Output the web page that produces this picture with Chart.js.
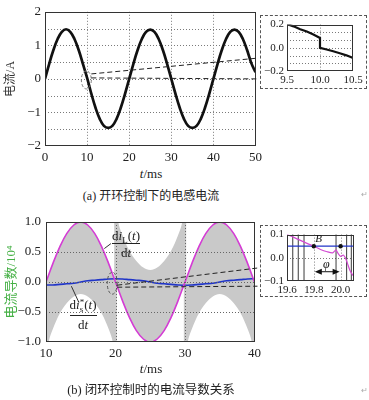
<!DOCTYPE html>
<html><head><meta charset="utf-8">
<script src="https://cdn.jsdelivr.net/npm/chart.js@4.4.1/dist/chart.umd.min.js"></script>
<style>
html,body{margin:0;padding:0;background:#fff}
#wrap{position:relative;width:369px;height:400px;overflow:hidden;font-family:'Liberation Serif','Times New Roman',serif;color:#222}
canvas{position:absolute;display:block}
.box{position:absolute;border:1px dashed #555;box-sizing:border-box}
.t{position:absolute;white-space:nowrap;line-height:1;transform:translate(-50%,-50%)}
.cn{font-family:'Noto Sans CJK SC',sans-serif}
.bar{position:absolute;height:0;border-top:1px solid #222}
.sb{position:relative;top:3px;font-size:9px}
.st{display:inline-block;font-size:9px;line-height:7px;vertical-align:-3px;text-align:left}
</style></head><body><div id="wrap">
<canvas id="ca" width="266" height="165" style="left:0;top:0"></canvas>
<canvas id="cb" width="265" height="156" style="left:0;top:208px"></canvas>
<canvas id="cia" width="106" height="74" style="left:260px;top:15px"></canvas>
<canvas id="cib" width="106" height="72" style="left:260px;top:225px"></canvas>
<div class="box" style="left:260px;top:15px;width:107px;height:74px"></div>
<div class="box" style="left:260px;top:225px;width:107px;height:72px"></div>
<div class="t" style="left:151px;top:173px;font-size:13px"><i>t</i>/ms</div>
<div class="t" style="left:151px;top:195px;font-size:12px">(a) <span class="cn">开环控制下的电感电流</span></div>
<div class="t" style="left:151px;top:368px;font-size:13px"><i>t</i>/ms</div>
<div class="t" style="left:151px;top:390px;font-size:12.5px">(b) <span class="cn">闭环控制时的电流导数关系</span></div>
<div class="t" style="left:126px;top:235px;font-size:13px">d<i>i</i><span class="sb">L</span>(<i>t</i>)</div>
<div class="bar" style="left:112px;top:243px;width:28px"></div>
<div class="t" style="left:126px;top:252px;font-size:13px">d<i>t</i></div>
<div class="t" style="left:83px;top:305px;font-size:13px">d<i>i</i><span class="st">*<br>s</span>(<i>t</i>)</div>
<div class="bar" style="left:70px;top:315px;width:27px"></div>
<div class="t" style="left:83px;top:324px;font-size:13px">d<i>t</i></div>
<div class="t" style="left:364px;top:195px;font-size:8px;color:#aaa">↵</div>
<div class="t" style="left:364px;top:391px;font-size:8px;color:#aaa">↵</div>
</div>
<script>
// ---------- data: (a) open-loop inductor current ----------
const tA = [0,1,2,3,4,5,6,7,8,9,10,11,12,13,14,15,16,17,18,19,20,21,22,23,24,25,26,27,28,29,30,31,32,33,34,35,36,37,38,39,40,41,42,43,44,45,46,47,48,49,50];
const iA = [0,0.45,0.86,1.19,1.40,1.48,1.40,1.19,0.86,0.45,0.03,-0.44,-0.86,-1.19,-1.40,-1.46,-1.40,-1.19,-0.86,-0.45,0.0,0.45,0.86,1.19,1.40,1.47,1.40,1.19,0.86,0.45,0.0,-0.45,-0.86,-1.19,-1.40,-1.46,-1.40,-1.19,-0.86,-0.45,0.0,0.45,0.86,1.19,1.40,1.47,1.40,1.19,0.86,0.47,0.2];
const xTicksA = [0,10,20,30,40,50];
const yTicksA = [-2,-1.5,-1,-0.5,0,0.5,1,1.5,2];
// inset of (a)
const tIA = [9.5,9.6,9.7,9.8,9.9,10.0,10.0,10.1,10.2,10.3,10.4,10.5];
const iIA = [0.205,0.185,0.16,0.14,0.115,0.085,0.0,-0.015,-0.03,-0.047,-0.065,-0.087];
const xTicksIA = [9.5,10.0,10.5];
const yTicksIA = [-0.2,-0.1333,-0.0667,0,0.0667,0.1333,0.2];
// ---------- data: (b) closed-loop current derivatives (x10^4) ----------
const tB = [10,11,12,13,14,15,16,17,18,19,20,21,22,23,24,25,26,27,28,29,30,31,32,33,34,35,36,37,38,39,40];
const diL = [0,0.31,0.59,0.81,0.95,1.0,0.95,0.81,0.59,0.31,0,-0.31,-0.59,-0.81,-0.95,-1.0,-0.95,-0.81,-0.59,-0.31,0,0.31,0.59,0.81,0.95,1.0,0.95,0.81,0.59,0.31,0];
const diS = [-0.05,-0.05,-0.04,-0.03,-0.02,0,0.02,0.03,0.04,0.05,0.055,0.05,0.04,0.03,0.02,0,-0.02,-0.03,-0.04,-0.05,-0.055,-0.05,-0.04,-0.03,-0.02,0,0.02,0.03,0.04,0.05,0.055];
// gray admissible region, three switching intervals (each row is one interval)
const grayT  = [[10,10.4,11,12,13,14,15,16,17,18,19,19.6,20.2],
                [19.8,20.4,21,22,23,24,25,26,27,28,29,29.6,30.2],
                [29.8,30.4,31,32,33,34,35,36,37,38,39,39.6,40]];
const grayHi = [[0,0.125,0.31,0.59,0.81,0.95,1.0,0.95,0.81,0.59,0.31,0.125,0],
                [1.6,1.0,0.78,0.52,0.35,0.24,0.2,0.24,0.35,0.52,0.78,1.0,1.6],
                [0,0.125,0.31,0.59,0.81,0.95,1.0,0.95,0.81,0.59,0.31,0.125,0]];
const grayLo = [[-1.6,-1.0,-0.78,-0.52,-0.35,-0.24,-0.2,-0.24,-0.35,-0.52,-0.78,-1.0,-1.6],
                [0,-0.125,-0.31,-0.59,-0.81,-0.95,-1.0,-0.95,-0.81,-0.59,-0.31,-0.125,0],
                [-1.6,-1.0,-0.78,-0.52,-0.35,-0.24,-0.2,-0.24,-0.35,-0.52,-0.78,-1.0,-1.6]];
const xTicksB = [10,20,30,40];
const yTicksB = [-1,-0.5,0,0.5,1];
// inset of (b)
const tIB = [19.6,19.65,19.7,19.75,19.8,19.85,19.9,19.94,19.965,19.98,20.0,20.02,20.035,20.05,20.07,20.09,20.1];
const diLIB = [0.1,0.088,0.075,0.062,0.05,0.036,0.026,0.021,0.034,0.02,0.006,0.012,0.0,-0.022,-0.055,-0.074,-0.08];
const tBlueIB = [19.6,20.1];
const diSIB = [0.05,0.05];
const switchT = [19.643,19.684,19.727,19.966,20.045,20.08];
const markT = [19.8,20.0];
const markV = [0.05,0.05];
const xTicksIB = [19.6,19.8,20.0,20.1];
const yTicksIB = [-0.1,0,0.1];

// ---------- helpers ----------
const SERIF = "'Liberation Serif','Times New Roman',serif";
const minus = v => (v < 0 ? '\u2212' : '');
const pts = (xs, ys) => xs.map((x, k) => ({x, y: ys[k]}));
const setTicks = arr => s => { s.ticks = arr.map(v => ({value: v})); };
function drawDots(c, color, under){
  const a=c.chartArea, ctx=c.ctx;
  ctx.save();
  if(under) ctx.globalCompositeOperation='destination-over';
  ctx.strokeStyle=color; ctx.lineWidth=1; ctx.setLineDash([1,2]);
  ['x','y'].forEach(id=>{
    const s=c.scales[id];
    s.ticks.forEach(tk=>{
      const v=Number(tk.value);
      if(!(v>s.min+1e-9 && v<s.max-1e-9)) return;
      const p=Math.round(s.getPixelForValue(v))+0.5;
      ctx.beginPath();
      if(id==='x'){ctx.moveTo(p,a.top);ctx.lineTo(p,a.bottom);} else {ctx.moveTo(a.left,p);ctx.lineTo(a.right,p);}
      ctx.stroke();
    });
  });
  ctx.restore();
}
const gridUnder = {id:'gridUnder', afterDraw(c){ drawDots(c,'#7a7a7a',true); }};
const gridOver  = {id:'gridOver',  afterDraw(c){ drawDots(c,'#666666',false); }};
const frame = {id:'frame', afterDraw(c){
  const a=c.chartArea, x=c.ctx; x.save(); x.setLineDash([]); x.strokeStyle='#333'; x.lineWidth=1;
  const l=Math.round(a.left)+0.5, r=Math.round(a.right)-0.5, t=Math.round(a.top)+0.5, b=Math.round(a.bottom)-0.5;
  x.strokeRect(l,t,r-l,b-t); x.restore(); }};
const base = (padding) => ({responsive:false, animation:false, devicePixelRatio:1,
  layout:{padding}, plugins:{legend:{display:false}, tooltip:{enabled:false}}, elements:{point:{radius:0}}});
function axis(min,max,ticksArr,fmt,size,pad,fit,extra){
  return Object.assign({type:'linear',min,max,afterBuildTicks:setTicks(ticksArr),
    ticks:{autoSkip:false,maxRotation:0,color:'#222',font:{family:SERIF,size},padding:pad,callback:fmt},
    grid:{display:false, drawTicks:false}, border:{display:false}, afterFit:fit}, extra||{});
}

// ---------- chart (a) ----------
const zoomMarkA = {t:9.82, v:-0.03, ends:[{t:50.55,v:0.62,dy:-6},{t:50.55,v:0.0,dy:-2}]};
const annA = {id:'annA', afterDraw(c){
  const xs=c.scales.x, ys=c.scales.y, x=c.ctx;
  const cx=xs.getPixelForValue(zoomMarkA.t), cy=ys.getPixelForValue(zoomMarkA.v);
  x.save(); x.lineWidth=1; x.strokeStyle='#777'; x.setLineDash([3,2]);
  x.beginPath(); x.ellipse(cx,cy,5,9,0,0,Math.PI*2); x.stroke();
  x.strokeStyle='#222'; x.setLineDash([5,3]);
  zoomMarkA.ends.forEach(e=>{ x.beginPath(); x.moveTo(cx+5,cy+e.dy); x.lineTo(xs.getPixelForValue(e.t),ys.getPixelForValue(e.v)); x.stroke(); });
  x.restore(); }};
new Chart(document.getElementById('ca'), {type:'line',
  data:{datasets:[{data:pts(tA,iA), borderColor:'#111', borderWidth:2.7, tension:0.4}]},
  options:Object.assign(base({top:10,right:8,left:0,bottom:0}),{scales:{
    x:axis(0,50,xTicksA,v=>String(v),13,4,s=>{s.height=19;}),
    y:axis(-2,2,yTicksA,v=>Number.isInteger(v)?minus(v)+Math.abs(v):'',13,4,s=>{s.width=45;},
      {title:{display:true,text:'电流/A',color:'#333',font:{family:"'Liberation Serif','Noto Sans CJK SC',serif",size:12},padding:{top:4,bottom:0}}})
  }}), plugins:[gridUnder, frame, annA]});

// ---------- chart (b) ----------
const dsB = [
  {data:pts(tB,diL), borderColor:'#d43cd4', borderWidth:1.6, tension:0.4},
  {data:pts(tB,diS), borderColor:'#2035c8', borderWidth:1.6, tension:0.4}
];
grayT.forEach((ts,k)=>{
  const n=dsB.length;
  dsB.push({data:pts(ts,grayLo[k]), borderWidth:0, borderColor:'rgba(0,0,0,0)', tension:0.35, fill:false});
  dsB.push({data:pts(ts,grayHi[k]), borderWidth:0, borderColor:'rgba(0,0,0,0)', tension:0.35, fill:n, backgroundColor:'#c9c9c9'});
});
const zoomMarkB = {t:19.53, v:-0.02, ends:[{t:40.43,v:0.233,dy:2},{t:40.43,v:-0.07,dy:4}]};
const leadersB = [[18.39,0.557,19.34,0.64],[13.65,-0.07,14.73,-0.34]];
const annB = {id:'annB', afterDraw(c){
  const xs=c.scales.x, ys=c.scales.y, x=c.ctx;
  const cx=xs.getPixelForValue(zoomMarkB.t), cy=ys.getPixelForValue(zoomMarkB.v);
  x.save(); x.lineWidth=1; x.strokeStyle='#333';
  leadersB.forEach(l=>{x.beginPath();x.moveTo(xs.getPixelForValue(l[0]),ys.getPixelForValue(l[1]));x.lineTo(xs.getPixelForValue(l[2]),ys.getPixelForValue(l[3]));x.stroke();});
  x.strokeStyle='#555'; x.setLineDash([3,2]);
  x.beginPath(); x.ellipse(cx,cy,5,11,0,0,Math.PI*2); x.stroke();
  x.strokeStyle='#222'; x.setLineDash([5,3]);
  zoomMarkB.ends.forEach(e=>{ x.beginPath(); x.moveTo(cx+5,cy+e.dy); x.lineTo(xs.getPixelForValue(e.t),ys.getPixelForValue(e.v)); x.stroke(); });
  x.restore(); }};
new Chart(document.getElementById('cb'), {type:'line',
  data:{datasets:dsB},
  options:Object.assign(base({top:14,right:8,left:0,bottom:0}),{scales:{
    x:axis(10,40,xTicksB,v=>String(v),13,4,s=>{s.height=22;}),
    y:axis(-1,1,yTicksB,v=>minus(v)+Math.abs(v).toFixed(1),13,5,s=>{s.width=46;},
      {title:{display:true,text:'电流导数/10⁴',color:'#45b045',font:{family:"'Liberation Serif','Noto Sans CJK SC',serif",size:13},padding:{top:4,bottom:0}}})
  }}), plugins:[gridOver, frame, annB]});

// ---------- inset (a) ----------
new Chart(document.getElementById('cia'), {type:'line',
  data:{datasets:[{data:pts(tIA,iIA), borderColor:'#111', borderWidth:2.2, tension:0}]},
  options:Object.assign(base({top:7,right:13,left:0,bottom:0}),{scales:{
    x:axis(9.5,10.5,xTicksIA,v=>v.toFixed(1),11,3,s=>{s.height=18;}),
    y:axis(-0.2,0.2,yTicksIA,v=>Math.abs(Math.abs(v)-0.2)<1e-6||Math.abs(v)<1e-6?minus(v)+Math.abs(v).toFixed(1):'',11,3,s=>{s.width=27;})
  }}), plugins:[gridUnder, frame]});

// ---------- inset (b) ----------
const swData = switchT.flatMap(t=>[{x:t,y:-0.2},{x:t,y:0.2},{x:t,y:null}]);
const annIB = {id:'annIB', afterDraw(c){
  const xs=c.scales.x, ys=c.scales.y, x=c.ctx;
  const x1=xs.getPixelForValue(markT[0])+1, x2=xs.getPixelForValue(markT[1])-1, y=ys.getPixelForValue(-0.06);
  x.save(); x.strokeStyle='#111'; x.fillStyle='#111'; x.lineWidth=1;
  x.beginPath(); x.moveTo(x1+4,y); x.lineTo(x2-4,y); x.stroke();
  x.beginPath(); x.moveTo(x1,y); x.lineTo(x1+7,y-3); x.lineTo(x1+7,y+3); x.closePath(); x.fill();
  x.beginPath(); x.moveTo(x2,y); x.lineTo(x2-7,y-3); x.lineTo(x2-7,y+3); x.closePath(); x.fill();
  x.font='italic 12px '+SERIF; x.textAlign='center'; x.textBaseline='middle';
  x.fillText('φ', xs.getPixelForValue(19.9)-1, ys.getPixelForValue(-0.03));
  x.font='italic 11px '+SERIF;
  x.fillText('B', xs.getPixelForValue(19.835), ys.getPixelForValue(0.08));
  x.restore(); }};
new Chart(document.getElementById('cib'), {type:'line',
  data:{datasets:[
    {data:pts(markT,markV), showLine:false, pointRadius:2.2, pointBackgroundColor:'#111', pointBorderWidth:0},
    {data:pts(tIB,diLIB), borderColor:'#d24ad2', borderWidth:1.2, tension:0.2},
    {data:pts(tBlueIB,diSIB), borderColor:'#2035c8', borderWidth:1.2},
    {data:swData, borderColor:'#3a3a3a', borderWidth:1, spanGaps:false}
  ]},
  options:Object.assign(base({top:8,right:12,left:0,bottom:0}),{scales:{
    x:axis(19.6,20.1,xTicksIB,v=>v>20.05?'':v.toFixed(1),11,3,s=>{s.height=16;}),
    y:axis(-0.1,0.1,yTicksIB,v=>minus(v)+Math.abs(v).toFixed(1),11,3,s=>{s.width=27;})
  }}), plugins:[gridUnder, frame, annIB]});
</script>
</body></html>
